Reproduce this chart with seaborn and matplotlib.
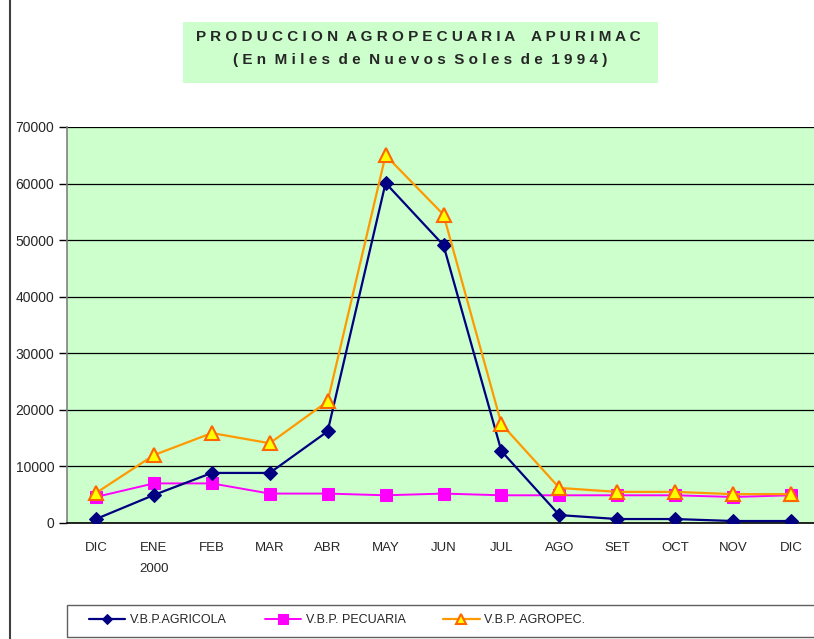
import numpy as np
import pandas as pd
import matplotlib
matplotlib.use("Agg")
import matplotlib.pyplot as plt
import seaborn as sns
from matplotlib.patches import Rectangle
from matplotlib.lines import Line2D

# data
months = ["DIC", "ENE\n2000", "FEB", "MAR", "ABR", "MAY", "JUN", "JUL",
          "AGO", "SET", "OCT", "NOV", "DIC"]
agricola = [700, 4950, 8850, 8850, 16200, 60100, 49100, 12700,
            1400, 700, 700, 350, 350]
pecuaria = [4600, 7000, 7000, 5200, 5200, 4900, 5200, 4900,
            4900, 4900, 4900, 4600, 4900]
agropec = [5300, 12000, 15900, 14100, 21500, 65000, 54500, 17500,
           6200, 5500, 5500, 5100, 5100]
yticks = [0, 10000, 20000, 30000, 40000, 50000, 60000, 70000]

sns.set_style("white")
plt.rcParams['font.family'] = ['Liberation Sans', 'DejaVu Sans']

fig = plt.figure(figsize=(8.14, 6.39), dpi=100)
ax = fig.add_axes([67/814, 116/639, (820-67)/814, 396/639])
ax.set_facecolor("#CCFFCC")

pos = np.arange(len(months))
df = pd.DataFrame({"pos": pos, "agri": agricola, "pec": pecuaria, "agro": agropec})

sns.lineplot(data=df, x="pos", y="agri", ax=ax, color="#000080", lw=1.6,
             marker="D", markersize=7, markerfacecolor="#000080",
             markeredgecolor="#000080", label="V.B.P.AGRICOLA", zorder=4)
sns.lineplot(data=df, x="pos", y="pec", ax=ax, color="#FF00FF", lw=1.4,
             marker="s", markersize=9, markerfacecolor="#FF00FF",
             markeredgecolor="#FF00FF", label="V.B.P. PECUARIA", zorder=3)
sns.lineplot(data=df, x="pos", y="agro", ax=ax, color="#FF9900", lw=1.6,
             marker="^", markersize=10, markerfacecolor="#FFFF00",
             markeredgecolor="#FF6600", markeredgewidth=1.5,
             label="V.B.P. AGROPEC.", zorder=5)

ax.set_xlim(-0.5, 12.5)
ax.set_ylim(0, 70000)
ax.set_yticks(yticks)
ax.set_yticklabels([str(v) for v in yticks], fontsize=10)
ax.yaxis.grid(True, color="black", lw=0.9)
ax.set_axisbelow(True)
ax.set_xticks(pos)
ax.set_xticklabels(months, fontsize=9.5, linespacing=1.9, va="top")
ax.set_xticks(np.arange(-0.5, 13, 1), minor=True)
ax.tick_params(axis="x", which="major", length=0, pad=14)
ax.tick_params(axis="x", which="minor", length=6, width=1, color="black", direction="out")
ax.tick_params(axis="y", length=6, width=1, color="black", direction="out", left=True, pad=3)
ax.set_xlabel("")
ax.set_ylabel("")
for s in ["top", "right"]:
    ax.spines[s].set_visible(False)
ax.spines["left"].set_color("#808080")
ax.spines["bottom"].set_color("black")
ax.spines["left"].set_linewidth(1.2)
ax.spines["bottom"].set_linewidth(1.2)

# legend box drawn as a rectangle, entries placed inside it
handles, labels = ax.get_legend_handles_labels()
ax.get_legend().remove()
fig.patches.append(Rectangle((67/814, 2/639), (830-67)/814, 32/639,
                             transform=fig.transFigure, facecolor="white",
                             edgecolor="#606060", lw=1.0, zorder=0))
leg = fig.legend(handles, labels, loc="center left", ncol=3,
                 bbox_to_anchor=(89/814, 1 - 620/639),
                 fontsize=9, frameon=False, handlelength=2.9,
                 handletextpad=0.4, columnspacing=3.0,
                 borderaxespad=0, borderpad=0, markerscale=0.75)

# title box
fig.patches.append(Rectangle((183/814, (639-83)/639), (658-183)/814, 61/639,
                             transform=fig.transFigure, facecolor="#CCFFCC",
                             edgecolor="none", zorder=0))
fig.text(418/814, 1 - 37/639, "P R O D U C C I O N  A G R O P E C U A R I A    A P U R I M A C",
         ha="center", va="center", fontsize=11, fontweight="bold")
fig.text(420/814, 1 - 60/639, "( E n  M i l e s  d e  N u e v o s  S o l e s  d e  1 9 9 4 )",
         ha="center", va="center", fontsize=11, fontweight="bold")

# chart area border on the left
fig.lines.append(Line2D([10/814, 10/814], [0, 1], transform=fig.transFigure,
                        color="#404040", lw=1.5))

fig.savefig("out.png", dpi=100)
